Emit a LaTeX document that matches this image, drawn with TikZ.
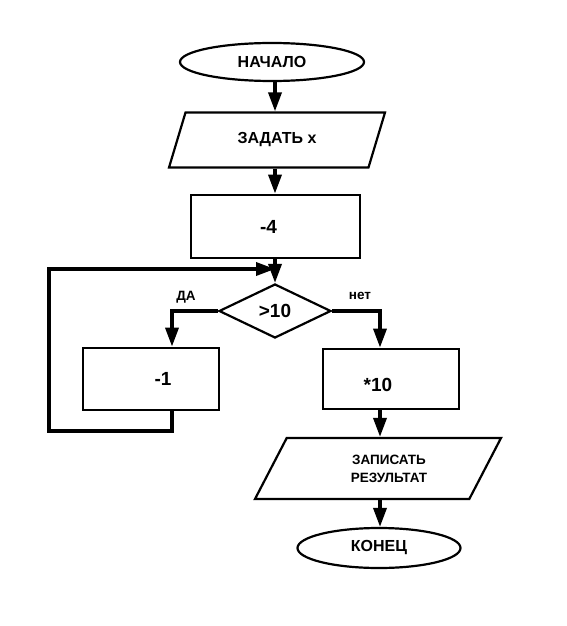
\documentclass[tikz,border=0pt]{standalone}
\usepackage{fontspec}
\setmainfont{Liberation Sans}
\usetikzlibrary{shapes.geometric,arrows.meta,positioning,calc}
\tikzset{
  term/.style={ellipse, draw, line width=2.2pt, inner sep=0pt, font=\fontsize{16}{19}\selectfont\bfseries},
  io/.style={trapezium, trapezium left angle=41, trapezium right angle=139,
             trapezium stretches body, draw, line width=2.2pt, inner sep=0pt,
             align=center, font=\fontsize{16}{19}\selectfont\bfseries},
  proc/.style={rectangle, draw, line width=2.8pt, inner sep=0pt,
               font=\fontsize{19}{22}\selectfont\bfseries},
  dec/.style={diamond, draw, line width=2.2pt, inner sep=0pt,
              font=\fontsize{19}{22}\selectfont\bfseries},
  lbl/.style={font=\fontsize{13.5}{16}\selectfont\bfseries},
  arr/.style={-{Triangle[length=19pt,width=13pt]}, line width=3.5pt}
}
\begin{document}
\begin{tikzpicture}[x=1pt, y=-1pt]
  \useasboundingbox (0,0) rectangle (566,626);
  \node[term, minimum width=184pt, minimum height=38pt] (start) at (272,62) {НАЧАЛО};
  \node[io, minimum width=216pt, minimum height=55pt] (input) at (277,140) {ЗАДАТЬ x};
  \node[proc, minimum width=169pt, minimum height=63pt] (sub4) at (275.5,226.5) {-4\hspace*{14pt}};
  \node[dec, minimum width=112pt, minimum height=54pt] (cond) at (275,311) {>10};
  \node[proc, minimum width=136pt, minimum height=62pt] (sub1) at (151,379) {\hspace*{24pt}-1};
  \node[proc, minimum width=136pt, minimum height=60pt] (mul10) at (391,379) {\rule{0pt}{26pt}*10\hspace*{26pt}};
  \node[io, minimum width=246pt, minimum height=61pt,
        font=\fontsize{13.5}{18}\selectfont\bfseries] (output) at (378,468.5) {\hspace*{22pt}ЗАПИСАТЬ\\\hspace*{22pt}РЕЗУЛЬТАТ};
  \node[term, minimum width=163pt, minimum height=40pt] (finish) at (379,548) {КОНЕЦ};
  \node[lbl] (yes) at (186,297) {ДА};
  \node[lbl] (no) at (360,296) {нет};
  \coordinate (join) at (275,269);
  \coordinate (back) at (49,431);
  % main column
  \draw[arr] (start.south -| 275,0) -- (input.north -| 275,0);
  \draw[arr] (input.south -| 275,0) -- (sub4.north -| 275,0);
  \draw[arr] (sub4.south -| 275,0) -- (cond.north);
  % branches
  \draw[arr] (cond.west) -| ([xshift=21pt]sub1.north);
  \draw[arr] (cond.east) -| ([xshift=-11pt]mul10.north);
  \draw[arr] ([xshift=21pt]sub1.south) |- (back) |- (join);
  \draw[arr] ([xshift=-11pt]mul10.south) -- (output.north -| 380,0);
  \draw[arr] (output.south -| 380,0) -- (finish.north -| 380,0);
\end{tikzpicture}
\end{document}
